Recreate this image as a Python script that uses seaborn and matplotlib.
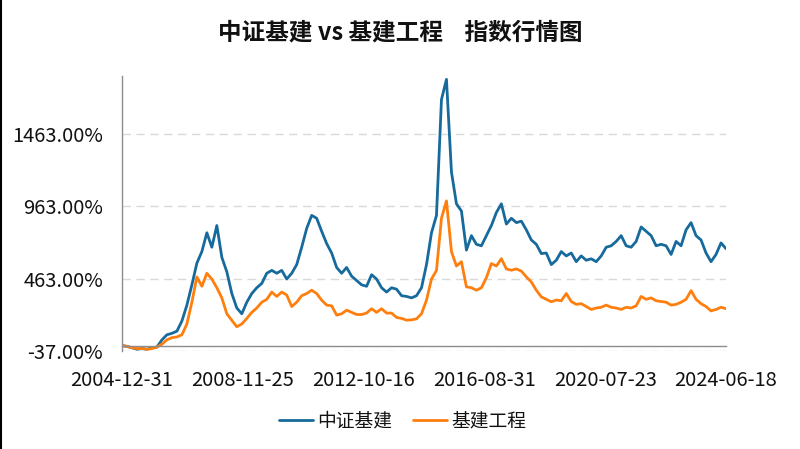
import matplotlib
matplotlib.use('Agg')
import matplotlib.pyplot as plt
import matplotlib.ticker as mticker
from matplotlib.lines import Line2D
import numpy as np
import pandas as pd
import seaborn as sns

# Series values (%) at evenly spaced points from 2004-12-31 to 2024-06-18
zz_jijian = [
    0, -5, -15, -25, -20, -25, -15, -10, 40, 75,
    85, 100, 170, 280, 420, 570, 650, 780, 680, 830,
    610, 510, 360, 260, 220, 300, 360, 400, 430, 500,
    520, 500,
    520, 460, 500, 560, 680, 810, 900, 880, 790, 705,
    640, 540, 500, 540, 480, 450, 420, 410, 490, 460,
    400, 370, 400, 390, 345, 340, 330, 345, 400,
    560, 780, 900, 1700, 1840, 1200, 980, 930, 660, 760,
    700, 690, 760, 830, 920, 980, 840, 880, 850, 860,
    800, 730, 700, 636, 640, 560, 590, 650, 620, 640, 580,
    620, 590, 600, 580, 620, 680, 690, 720, 760, 690,
    680, 720, 820, 790, 760, 690, 700, 690, 630, 720,
    690, 800, 850, 760, 730, 640, 580, 630, 710,
    670,
]
jijian_gongcheng = [
    0, -5, -15, -20, -20, -25, -20, -10, 10, 40,
    55, 60, 75, 150, 300, 475, 410, 500, 460, 400,
    330, 220, 175, 130, 150, 188, 230, 260, 300, 320,
    370, 340,
    370, 350, 270, 300, 345, 360, 383, 360, 314, 280,
    275, 211, 220, 245, 230, 215, 215, 225, 255, 230,
    255, 225, 225, 195, 188, 176, 178, 185, 220,
    314, 460, 520, 880, 1000, 650, 550, 580, 406, 400,
    383, 400, 470, 567, 550, 601, 530, 521, 530, 515,
    475, 440, 383, 337, 320, 303, 315, 310, 360, 305, 285,
    290, 270, 250, 260, 265, 280, 265, 260, 250, 265,
    260, 275, 340, 320, 330, 310, 305, 300, 280, 285,
    300, 320, 380, 320, 290, 270, 240, 250, 265,
    255,
]
series_names = ['中证基建', '基建工程']
series_colors = ['#176a9c', '#ff7f0e']
date_labels = ['2004-12-31', '2008-11-25', '2012-10-16',
               '2016-08-31', '2020-07-23', '2024-06-18']
y_major = [-37, 463, 963, 1463]

sns.set_theme(style='white')
plt.rcParams['font.family'] = ['Noto Sans CJK SC', 'DejaVu Sans']

fig = plt.figure(figsize=(8, 4.49), dpi=100)
ax = fig.add_axes([0.1525, 0.2183, 0.755, 0.6124])

n = len(zz_jijian)
idx = np.arange(n)
for vals, name, col in zip([zz_jijian, jijian_gongcheng], series_names, series_colors):
    sns.lineplot(x=idx, y=vals, color=col, linewidth=2.0, label=name, ax=ax)

ax.set_xlim(0, n - 1)
ax.set_ylim(-37, 1863)

# y axis
ax.yaxis.set_major_locator(mticker.FixedLocator(y_major))
ax.yaxis.set_minor_locator(mticker.FixedLocator(np.arange(-37, 1864, 100)))
ax.yaxis.set_major_formatter(mticker.FuncFormatter(lambda v, p: f'{v:.2f}%'))
ax.grid(axis='y', which='major', color='#d9d9d9', linestyle=(0, (6, 4)), linewidth=1)

# x axis (crosses at 0)
ax.spines['bottom'].set_position(('data', 0))
major_x = np.linspace(0, n - 1, len(date_labels))
ax.set_xticks(major_x)
ax.set_xticklabels(date_labels)
ax.set_xticks((major_x[:-1] + major_x[1:]) / 2, minor=True)

for s in ['top', 'right']:
    ax.spines[s].set_visible(False)
for s in ['left', 'bottom']:
    ax.spines[s].set_color('#8c8c8c')
    ax.spines[s].set_linewidth(1)

ax.tick_params(axis='x', which='both', direction='out', length=4.5, width=1,
               color='#8c8c8c', pad=13, labelsize=14.5, labelcolor='#111111')
ax.tick_params(axis='y', which='both', direction='out', length=4.5, width=1,
               color='#8c8c8c', pad=9, labelsize=14.5, labelcolor='#111111')
ax.tick_params(axis='y', which='minor', length=3.5)
ax.set_xlabel('')
ax.set_ylabel('')

ax.get_legend().remove()
handles = [Line2D([], [], color=c, linewidth=2.0) for c in series_colors]
fig.legend(handles, series_names, loc='center', bbox_to_anchor=(0.503, 0.063),
           ncol=2, frameon=False, fontsize=13.5, handlelength=1.85,
           handletextpad=0.2, columnspacing=1.1, labelcolor='#111111')

fig.text(0.501, 0.9265, '中证基建 vs 基建工程    指数行情图', ha='center', va='center',
         fontsize=17, fontweight='bold', color='#111111')

fig.add_artist(Line2D([0.001, 0.001], [0, 1], transform=fig.transFigure,
                      color='black', linewidth=1.5))

fig.savefig('out.png', dpi=100)
